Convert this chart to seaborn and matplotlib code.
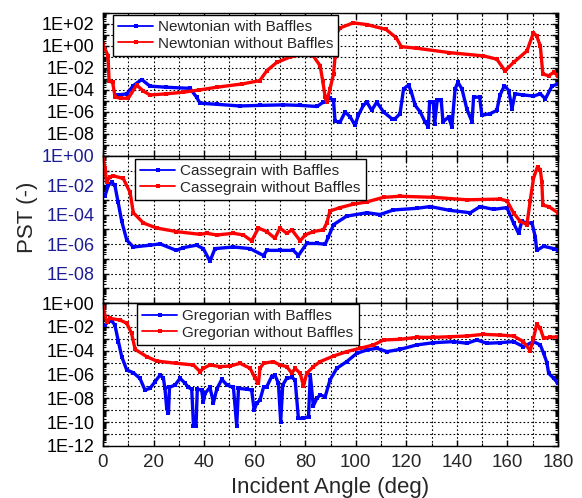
import numpy as np
import pandas as pd
import matplotlib
matplotlib.use("Agg")
import matplotlib.pyplot as plt
from matplotlib.lines import Line2D
from matplotlib.ticker import MultipleLocator, LogLocator, NullFormatter
import seaborn as sns

# ---------------- data (log10 of PST) ----------------
newt_with_ang = [4.7, 6, 9.4, 12, 15.3, 18.6, 25, 34.4, 37, 38.4, 45, 54, 62, 71.4, 78, 84.6, 87.2,
                 89.8, 91.2, 91.8, 93.8, 95.8, 97.8, 99.7, 101, 103, 104.4, 106.3, 108.3, 111, 114.2,
                 115.6, 117.5, 118.9, 120.9, 122, 123.5, 125.5, 127.4, 128.7, 129.2, 130.7, 131.2,
                 132.2, 133.8, 134.5, 136.7, 138, 139.3, 140.4, 142, 143.9, 146, 146.6, 149, 149.9,
                 153.2, 155.8, 157, 158.8, 160.5, 161.8, 163, 166.3, 170.3, 173, 175, 177.6, 180]
newt_with_log = [-4.5, -4.45, -4.35, -3.6, -3.05, -3.65, -3.75, -3.85, -4.65, -5.2, -5.3, -5.45, -5.4,
                 -5.35, -5.4, -5.5, -5.1, -4.75, -4.95, -6.85, -6.9, -6.0, -6.45, -7.2, -6.3, -5.4, -5.1,
                 -5.85, -5.1, -6.0, -6.6, -6.6, -6.15, -3.9, -3.55, -4.2, -5.4, -6.0, -6.9, -7.35, -5.1,
                 -5.1, -7.1, -4.95, -4.95, -6.9, -6.45, -7.35, -3.9, -3.3, -3.9, -5.7, -6.9, -4.65,
                 -4.65, -6.3, -6.15, -5.85, -4.5, -3.6, -4.05, -5.7, -4.35, -4.45, -4.55, -4.35, -4.8,
                 -3.65, -3.45]
newt_without_ang = [0, 2.0, 2.4, 3.8, 4.8, 7, 10, 13.3, 16, 18.6, 25, 31.8, 38, 45, 55, 62, 64.8, 68.7,
                    74, 79.3, 83.2, 85.9, 86.9, 87.9, 88.5, 89.8, 91.2, 91.8, 92.5, 93.8, 99, 104.4,
                    112, 116, 118, 124, 137, 150.5, 155.8, 159, 162.4, 167.7, 170.3, 171.6, 173, 174,
                    176.3, 178.3, 180]
newt_without_log = [0.15, -0.9, -3.2, -3.3, -4.65, -4.75, -4.75, -3.55, -4.1, -4.45, -4.35, -4.2, -4.0,
                    -3.75, -3.45, -3.15, -2.25, -1.5, -1.0, -0.75, -0.9, -1.8, -3.15, -4.65, -5.1,
                    -3.9, -2.55, -1.0, 1.2, 1.65, 2.1, 1.95, 1.5, 0.75, -0.06, -0.2, -0.6, -0.9, -1.2,
                    -2.25, -1.5, -0.45, 1.2, 0.9, 0.0, -2.55, -2.7, -2.4, -2.7]

cass_with_ang = [0.8, 2.1, 3.4, 4.7, 6, 7.4, 9.4, 12, 18.6, 22.6, 29, 31.8, 37, 39.7, 42.3, 44.3, 51.6,
                 58.2, 63.5, 64.8, 70, 75.3, 77.3, 80.6, 84.6, 87.9, 89.2, 91.2, 96.4, 104.4, 109.6,
                 114.9, 124.1, 129.4, 137.3, 145.3, 149.2, 154.5, 159.8, 162.4, 164.4, 165.7, 167.7,
                 169.7, 171, 171.6, 174.3, 178.3, 180]
cass_with_log = [-2.7, -2.0, -1.77, -2.0, -3.16, -4.44, -5.72, -6.19, -6.07, -5.98, -6.42, -6.23, -6.07,
                 -6.3, -7.16, -6.3, -6.19, -6.3, -6.77, -6.42, -6.42, -6.42, -6.77, -5.95, -5.95, -6.0,
                 -5.49, -4.67, -4.09, -3.86, -3.98, -3.67, -3.56, -3.44, -3.7, -3.86, -3.44, -3.63,
                 -3.51, -4.56, -5.26, -4.44, -4.56, -4.56, -5.49, -6.42, -6.14, -6.3, -6.42]
cass_without_ang = [0, 0.8, 1.4, 2.8, 4.1, 8, 10.7, 12, 16, 21.2, 29, 38.4, 41, 45, 51.6, 55.5, 58.8,
                    61.5, 64.8, 68, 70, 72.7, 74.7, 78, 80, 83.2, 87.2, 88.5, 89.8, 93.8, 99, 104.4,
                    111, 117.5, 130.7, 144, 157, 159.8, 162.4, 165, 167.7, 169, 170.3, 171.9, 173,
                    173.6, 174, 176.3, 180]
cass_without_log = [-0.1, -0.84, -1.77, -1.42, -1.35, -1.53, -2.47, -3.86, -4.56, -4.9, -5.14, -5.33,
                    -5.26, -5.37, -5.26, -5.37, -5.77, -4.9, -5.14, -5.6, -4.9, -5.26, -5.02, -5.77,
                    -5.37, -5.14, -5.02, -4.56, -3.74, -3.51, -3.28, -3.12, -2.81, -2.74, -2.81, -2.98,
                    -2.93, -3.05, -3.86, -4.44, -4.67, -3.05, -1.53, -0.72, -0.95, -1.77, -3.35, -3.44,
                    -3.86]

greg_with_ang = [0.8, 2.1, 3.4, 4.7, 6.1, 7.4, 9.4, 12, 14.6, 16.6, 18.6, 20.6, 22.6, 23.9, 24.5, 25.2,
                 25.9, 26.3, 28.5, 30.5, 32.5, 33.8, 35.1, 35.8, 36.8, 37.3, 39, 39.7, 40.4, 42.3,
                 43.7, 45, 47, 49, 51.6, 52.9, 53.6, 56.9, 58.8, 59.8, 60.8, 62.1, 63.5, 64.8, 66.7,
                 68, 69.4, 70.3, 71.1, 72.7, 74.7, 76, 77.3, 79.3, 81.3, 82, 83.2, 84.6, 85.9, 87.9,
                 89.8, 92.5, 96.4, 100.4, 104.4, 108.3, 112.3, 117.5, 124.1, 130.7, 138.7, 144,
                 147.9, 151.8, 157, 162.4, 166.3, 170.3, 173, 174.3, 175.6, 176.3, 178.3, 180]
greg_with_log = [-1.85, -1.57, -1.48, -1.85, -3.24, -4.5, -5.62, -5.85, -6.32, -7.3, -7.16, -6.6, -6.04,
                 -6.32, -7.16, -8.84, -9.26, -7.08, -6.88, -6.32, -6.74, -7.08, -7.24, -10.32, -10.32,
                 -7.24, -7.3, -8.28, -7.58, -7.08, -8.36, -7.24, -6.4, -6.88, -7.08, -10.32, -7.16,
                 -7.24, -7.3, -8.98, -8.42, -8.14, -7.08, -7.02, -6.18, -6.04, -6.74, -9.96, -6.88,
                 -6.32, -6.24, -6.46, -9.68, -9.68, -9.54, -6.04, -8.64, -8.0, -7.72, -7.86, -6.46,
                 -5.48, -4.92, -4.22, -3.94, -3.8, -4.08, -3.89, -3.52, -3.33, -3.24, -3.38, -3.1,
                 -3.38, -3.33, -3.24, -3.66, -3.24, -3.52, -4.22, -5.0, -5.9, -6.32, -6.74]
greg_without_ang = [0, 1.4, 2.8, 6.7, 9.4, 11.3, 12.7, 17.3, 21.2, 29, 35.8, 38.4, 39.7, 42.3, 46.3,
                    50.3, 54.2, 58.2, 60.2, 61.5, 62.1, 63.5, 67.4, 70, 72.7, 74.7, 76, 78, 79.3, 80.6,
                    83.2, 85.9, 91.2, 96.4, 101.7, 107, 111, 117.5, 124.1, 130.7, 137.3, 144, 150.5,
                    157, 162.4, 166.3, 169, 170.3, 171.6, 173, 174.3, 176.9, 180]
greg_without_log = [-0.3, -1.57, -1.29, -1.43, -1.7, -2.55, -3.89, -4.5, -4.87, -5.06, -5.2, -5.76,
                    -5.48, -5.2, -5.34, -5.29, -5.06, -5.48, -6.32, -6.74, -5.48, -5.06, -4.92, -5.2,
                    -5.34, -5.9, -5.48, -5.9, -6.96, -5.9, -5.34, -4.92, -4.45, -4.08, -3.8, -3.52,
                    -3.1, -3.05, -2.88, -2.88, -2.83, -2.77, -2.63, -2.69, -2.77, -3.24, -4.0, -2.97,
                    -1.76, -2.13, -2.96, -2.88, -2.83]

panels = [
    ("Newtonian", newt_with_ang, newt_with_log, newt_without_ang, newt_without_log, (-10, 3), 2, False),
    ("Cassegrain", cass_with_ang, cass_with_log, cass_without_ang, cass_without_log, (-10, 0), 0, False),
    ("Gregorian", greg_with_ang, greg_with_log, greg_without_ang, greg_without_log, (-12, 0), 0, True),
]
label_colors = ["black", "#1c1c96", "black"]
legend_anchor = [(0.0213, 0.986), (0.070, 0.98), (0.0747, 0.993)]

# ---------------- style ----------------
sns.set_theme(style="white")
plt.rcParams["font.family"] = ["Liberation Sans", "DejaVu Sans"]
plt.rcParams["axes.edgecolor"] = "black"
plt.rcParams["axes.linewidth"] = 1.0

BLUE = "#0000ff"
RED = "#ff0000"

fig = plt.figure(figsize=(5.82, 4.98), dpi=100)
gs = fig.add_gridspec(3, 1, height_ratios=[143, 147, 143], hspace=0,
                      left=103 / 582, right=558 / 582, top=1 - 13 / 498, bottom=1 - 446 / 498)

for i, (name, wa, wl, oa, ol, (ylo, yhi), labtop, xlab) in enumerate(panels):
    ax = fig.add_subplot(gs[i])
    df = pd.concat([
        pd.DataFrame({"angle": wa, "pst": 10.0 ** np.array(wl), "series": f"{name} with Baffles"}),
        pd.DataFrame({"angle": oa, "pst": 10.0 ** np.array(ol), "series": f"{name} without Baffles"}),
    ], ignore_index=True)
    sns.lineplot(data=df, x="angle", y="pst", hue="series",
                 palette=[BLUE, RED], estimator=None, sort=False, legend=False,
                 marker="s", markersize=3.0, markeredgewidth=0, linewidth=2.4, ax=ax)
    ax.set_yscale("log")
    ax.set_xlim(0, 180)
    ax.set_ylim(10.0 ** ylo, 10.0 ** yhi)

    # ticks
    ax.xaxis.set_major_locator(MultipleLocator(20))
    ax.xaxis.set_minor_locator(MultipleLocator(10))
    dec = np.arange(ylo, yhi + 1)
    ax.set_yticks(10.0 ** dec)
    labels = []
    for d in dec:
        if d % 2 == 0 and d <= labtop and (d > ylo or xlab):
            labels.append("1E+%02d" % d if d >= 0 else "1E-%02d" % (-d))
        else:
            labels.append("")
    ax.set_yticklabels(labels)
    ax.yaxis.set_minor_locator(LogLocator(base=10, subs=np.arange(2, 10), numticks=30))
    ax.yaxis.set_minor_formatter(NullFormatter())
    ax.tick_params(axis="both", which="both", direction="in", top=True, right=True,
                   bottom=True, left=True, color="black")
    ax.tick_params(axis="both", which="major", length=4, width=1.0)
    ax.tick_params(axis="both", which="minor", length=2, width=0.8)
    ax.tick_params(axis="y", labelsize=13, labelcolor=label_colors[i], pad=6)
    ax.tick_params(axis="x", labelsize=13.5, pad=6)
    if not xlab:
        ax.tick_params(axis="x", labelbottom=False)
    ax.set_xlabel("")
    ax.set_ylabel("")

    # grid: every decade in y, every 10 deg in x
    ax.grid(True, which="major", axis="both", linestyle=(0, (1.5, 2)), color="black", linewidth=0.8)
    ax.grid(True, which="minor", axis="x", linestyle=(0, (1.5, 2)), color="black", linewidth=0.8)
    ax.set_axisbelow(True)

    handles = [Line2D([], [], color=BLUE, lw=1.3, marker="s", ms=2.5, mew=0),
               Line2D([], [], color=RED, lw=1.3, marker="s", ms=2.5, mew=0)]
    leg = ax.legend(handles, [f"{name} with Baffles", f"{name} without Baffles"],
                    loc="upper left", bbox_to_anchor=legend_anchor[i], borderaxespad=0,
                    fontsize=11, handlelength=2.3, handletextpad=0.3, labelspacing=0.15,
                    borderpad=0.35, fancybox=False, framealpha=1, edgecolor="black")
    leg.get_frame().set_linewidth(1.0)

fig.text(27 / 582, 1 - 217 / 498, "PST (-)", rotation=90, ha="center", va="center", fontsize=16)
fig.text(330 / 582, 1 - 487 / 498, "Incident Angle (deg)", ha="center", va="center", fontsize=16)

fig.savefig("out.png", dpi=100)
